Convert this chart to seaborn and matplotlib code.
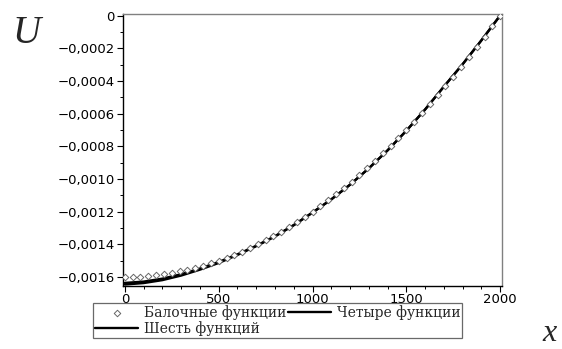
import matplotlib
matplotlib.use("Agg")
import matplotlib.pyplot as plt
import seaborn as sns
import pandas as pd
from matplotlib.ticker import MultipleLocator, FixedLocator, FixedFormatter

# ---- data (U in units of 1e-4) ----
beam_x = [0, 42, 83, 125, 167, 208, 250, 292, 333, 375, 417, 458, 500, 542, 583,
          625, 667, 708, 750, 792, 833, 875, 917, 958, 1000, 1042, 1083, 1125,
          1167, 1208, 1250, 1292, 1333, 1375, 1417, 1458, 1500, 1542, 1583, 1625,
          1667, 1708, 1750, 1792, 1833, 1875, 1917, 1958, 2000]
beam_u = [-16.00, -15.99, -15.97, -15.94, -15.89, -15.83, -15.75, -15.66, -15.56,
          -15.44, -15.30, -15.16, -15.00, -14.83, -14.64, -14.44, -14.22, -14.00,
          -13.75, -13.49, -13.22, -12.94, -12.64, -12.33, -12.00, -11.66, -11.31,
          -10.94, -10.55, -10.16, -9.75, -9.32, -8.89, -8.44, -7.97, -7.50, -7.00,
          -6.49, -5.98, -5.44, -4.88, -4.33, -3.75, -3.16, -2.56, -1.94, -1.30,
          -0.66, 0.00]

line_x = [0, 100, 200, 300, 400, 500, 600, 700, 800, 900, 1000,
          1100, 1200, 1300, 1400, 1500, 1600, 1700, 1800, 1900, 2000]
four_u = [-16.36, -16.28, -16.10, -15.83, -15.48, -15.08, -14.61, -14.09, -13.50,
          -12.82, -12.05, -11.25, -10.35, -9.35, -8.25, -7.05, -5.75, -4.35,
          -2.98, -1.52, 0.00]
six_u = [-16.46, -16.37, -16.19, -15.91, -15.55, -15.14, -14.65, -14.11, -13.52,
         -12.83, -12.06, -11.25, -10.35, -9.35, -8.25, -7.05, -5.75, -4.35,
         -2.98, -1.52, 0.00]

labels = ["Балочные функции", "Четыре функции", "Шесть функций"]

y_ticks = [0, -0.0002, -0.0004, -0.0006, -0.0008, -0.0010, -0.0012, -0.0014, -0.0016]
y_tick_labels = ["0", "−0,0002", "−0,0004", "−0,0006", "−0,0008", "−0,0010",
                 "−0,0012", "−0,0014", "−0,0016"]
x_ticks = [0, 500, 1000, 1500, 2000]
x_tick_labels = ["0", "500", "1000", "1500", "2000"]

scale = 1e-4
beam_df = pd.DataFrame({"x": beam_x, "U": [v * scale for v in beam_u]})
four_df = pd.DataFrame({"x": line_x, "U": [v * scale for v in four_u]})
six_df = pd.DataFrame({"x": line_x, "U": [v * scale for v in six_u]})

sns.set_theme(style="white")
plt.rcParams["font.family"] = ["DejaVu Sans"]

fig = plt.figure(figsize=(5.62, 3.49), dpi=100)
ax = fig.add_axes([0.2189, 0.1805, 0.6743, 0.7795])

sns.lineplot(data=six_df, x="x", y="U", ax=ax, color="black", linewidth=1.7,
             label=labels[2], legend=False)
sns.lineplot(data=four_df, x="x", y="U", ax=ax, color="black", linewidth=1.7,
             label=labels[1], legend=False)
sns.scatterplot(data=beam_df, x="x", y="U", ax=ax, marker="D", s=11,
                facecolor="white", edgecolor="#666666", linewidth=0.7,
                label=labels[0], legend=False, zorder=3)

ax.set_xlim(-10, 2010)
ax.set_ylim(-0.001655, 0.00001)
ax.xaxis.set_major_locator(FixedLocator(x_ticks))
ax.xaxis.set_major_formatter(FixedFormatter(x_tick_labels))
ax.xaxis.set_minor_locator(MultipleLocator(100))
ax.yaxis.set_major_locator(FixedLocator(y_ticks))
ax.yaxis.set_major_formatter(FixedFormatter(y_tick_labels))
ax.yaxis.set_minor_locator(MultipleLocator(0.0001))
ax.set_xlabel("")
ax.set_ylabel("")

ax.tick_params(axis="both", which="major", direction="out", length=4, width=0.8,
               color="black", labelsize=9.5, labelcolor="black", pad=2,
               left=True, bottom=True)
ax.tick_params(axis="both", which="minor", direction="out", length=2.5, width=0.7,
               color="black", left=True, bottom=True)
ax.tick_params(axis="x", which="major", pad=1)

for side in ["top", "right"]:
    ax.spines[side].set_color("#808080")
    ax.spines[side].set_linewidth(1.0)
for side in ["left", "bottom"]:
    ax.spines[side].set_color("black")
    ax.spines[side].set_linewidth(1.0)

# legend: row 1 = beam + four, row 2 = six (column-major fill)
h, l = ax.get_legend_handles_labels()
hd = dict(zip(l, h))
leg_order = [labels[0], labels[2], labels[1]]
leg = fig.legend([hd[t] for t in leg_order], leg_order,
                 loc="upper left", bbox_to_anchor=(93 / 562, 1 - 303 / 349),
                 ncol=2, frameon=True, fancybox=False, edgecolor="#444444",
                 prop={"family": ["DejaVu Serif"], "size": 10},
                 handlelength=3.1, handletextpad=0.4, columnspacing=0.15,
                 labelspacing=0.05, borderpad=0.15, borderaxespad=0.0,
                 markerscale=1.0)
leg.get_frame().set_linewidth(0.9)

fig.text(12 / 562, 1 - 43 / 349, "U", fontsize=28, style="italic",
         family=["Liberation Serif", "DejaVu Serif"], ha="left", va="baseline")
fig.text(542 / 562, 1 - 341 / 349, "x", fontsize=23, style="italic",
         family=["Liberation Serif", "DejaVu Serif"], ha="left", va="baseline")

fig.savefig("out.png", dpi=100, facecolor="white")
